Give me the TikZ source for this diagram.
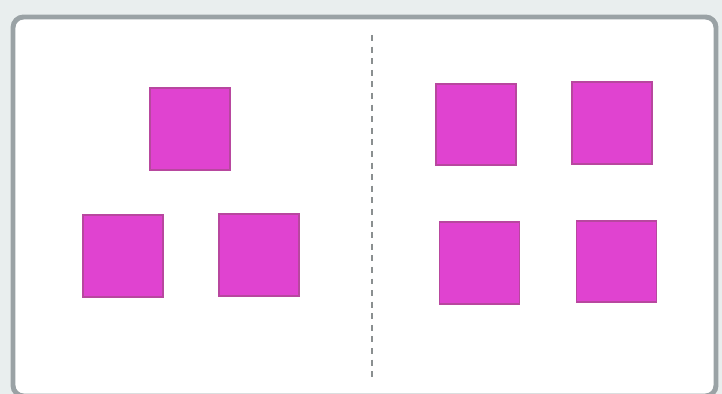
\documentclass[tikz,border=0pt]{standalone}
\usepackage{tikz}
\usetikzlibrary{calc}
\definecolor{framebg}{HTML}{E9EEEE}
\definecolor{framegray}{HTML}{9AA2A5}
\definecolor{tilepink}{HTML}{E043D0}
\definecolor{tileedge}{HTML}{B8479F}
\definecolor{dashgray}{HTML}{8A8F90}

\begin{document}
\begin{tikzpicture}[
    x=0.02cm, y=-0.02cm,
    line width=1.2pt,
    tile/.style={draw=tileedge, fill=tilepink, line width=1pt,
        minimum width=1.6cm, minimum height=1.63cm, inner sep=0pt,
        outer sep=0pt}
]

    % Background and bounding box
    \fill[framebg] (0, 0) rectangle (722, 394);
    \useasboundingbox (0, 0) rectangle (722, 394);

    % Panel frame
    \fill[white, draw=framegray, line width=2.8pt, rounded corners=6pt] (13, 17) rectangle (716, 396);

    % Divider between the two groups
    \draw[dashgray, line width=1.4pt, dash pattern=on 3.4pt off 3.2pt] (372, 35) -- (372, 382);

    % Left group: three tiles
    \node[tile] (lefttop) at (190, 129) {};
    \node[tile] (leftlow) at (123, 256) {};
    \node[tile] (leftmid) at (259, 255) {};

    % Right group: four tiles
    \node[tile] (righttl) at (476, 124.5) {};
    \node[tile] (righttr) at (612, 123) {};
    \node[tile] (rightbl) at (479.5, 263) {};
    \node[tile] (rightbr) at (616.5, 261.5) {};

\end{tikzpicture}
\end{document}
